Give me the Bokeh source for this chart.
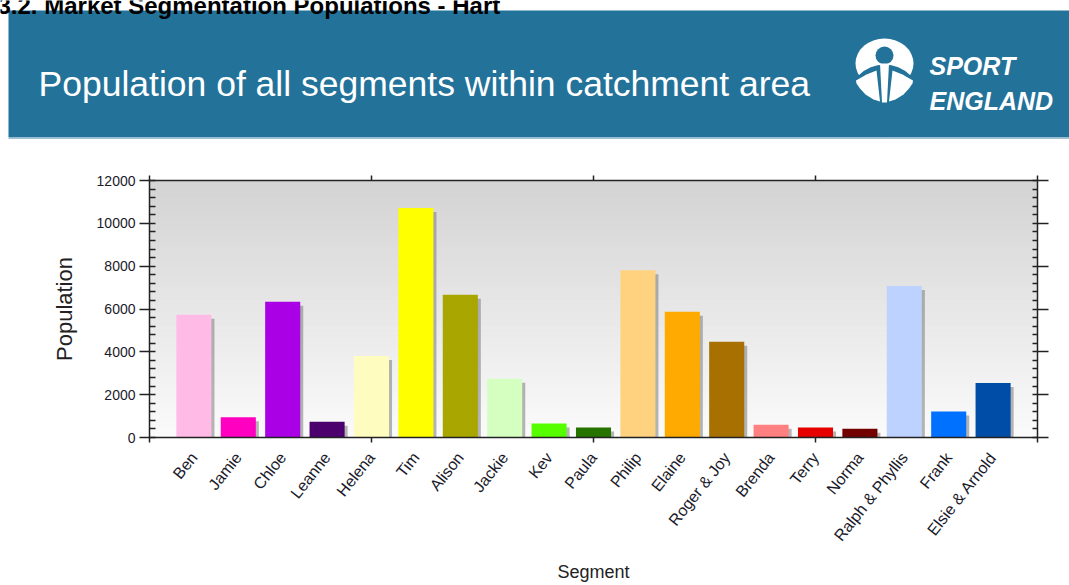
import math
from bokeh.plotting import figure
from bokeh.models import Range1d, LinearAxis, FixedTicker
from bokeh.layouts import column
from bokeh.embed import file_html
from bokeh.resources import INLINE
from bokeh.core.properties import value

# ---------------- data ----------------
segments = ["Ben", "Jamie", "Chloe", "Leanne", "Helena", "Tim", "Alison", "Jackie",
            "Kev", "Paula", "Philip", "Elaine", "Roger & Joy", "Brenda", "Terry",
            "Norma", "Ralph & Phyllis", "Frank", "Elsie & Arnold"]
population = [5730, 950, 6340, 730, 3800, 10720, 6660, 2740, 650, 470,
              7810, 5870, 4470, 590, 470, 410, 7070, 1210, 2550]
bar_colors = ["#FFBBE6", "#FF00C0", "#AA00E6", "#4B006E", "#FFFCC0", "#FFFF00",
              "#AAA600", "#D4FFC0", "#55FF00", "#267300", "#FFD27F", "#FFAA00",
              "#A87000", "#FF8080", "#E60000", "#730000", "#BED2FF", "#0070FF",
              "#004DA8"]
y_ticks = [0, 2000, 4000, 6000, 8000, 10000, 12000]
y_tick_labels = ["0", "2000", "4000", "6000", "8000", "10000", "12000"]
x_major_marks = [0, 5, 10, 15, 20]

title_text = "Population of all segments within catchment area"
caption_text = "3.2. Market Segmentation Populations - Hart"
x_label = "Segment"
y_label = "Population"

FONT = "Liberation Sans"
BLUE = "#23729A"
W = 1069
HEADER_H = 140
CHART_H = 585 - HEADER_H

# ---------------- header ----------------
h = figure(width=W, height=HEADER_H, x_range=Range1d(0, W), y_range=Range1d(HEADER_H, 0),
           output_backend="svg", toolbar_location=None, min_border=0,
           x_axis_location=None, y_axis_location=None, frame_align=False)
h.xgrid.visible = False
h.ygrid.visible = False
h.outline_line_color = None
h.background_fill_color = "white"
h.border_fill_color = "white"

h.quad(left=[8], right=[W], top=[10], bottom=[137], fill_color=BLUE, line_color=None)
h.quad(left=[8], right=[W], top=[137], bottom=[138.5], fill_color="#9fc1d3", line_color=None)

h.text(x=[-3], y=[5], text=[caption_text], text_font=value(FONT), text_font_size="24px",
       text_font_style="bold", text_color="black", text_baseline="alphabetic", text_align="left")
h.text(x=[38], y=[83], text=[title_text], text_font=value(FONT), text_font_size="35.5px",
       text_color="white", text_baseline="alphabetic", text_align="left")

# logo
h.ellipse(x=[884], y=[63], width=[58], height=[50], fill_color="white", line_color=None)
h.ellipse(x=[884], y=[100], width=[72], height=[72], fill_color=BLUE, line_color=None)
h.ellipse(x=[884], y=[55], width=[18], height=[18], fill_color=BLUE, line_color=None)
leaf_x = [855.5, 866, 876, 879.5, 873, 865, 859.5, 856]
leaf_y = [80, 74, 70, 101, 99, 94, 88, 83]
h.patch(x=leaf_x, y=leaf_y, fill_color="white", line_color=None)
h.patch(x=[1768 - v for v in leaf_x], y=leaf_y, fill_color="white", line_color=None)
h.patch(x=[879.5, 888.5, 886.5, 881.5], y=[63, 63, 102, 102], fill_color="white", line_color=None)
h.text(x=[929], y=[65], text=["SPORT"], text_font=value(FONT), text_font_size="25px",
       text_font_style="bold italic", text_color="white", text_baseline="alphabetic")
h.text(x=[929], y=[100], text=["ENGLAND"], text_font=value(FONT), text_font_size="25px",
       text_font_style="bold italic", text_color="white", text_baseline="alphabetic")

# ---------------- chart ----------------
n = len(segments)
xs = list(range(1, n + 1))
ymax = y_ticks[-1]

p = figure(width=W, height=CHART_H, x_range=Range1d(0, n + 1), y_range=Range1d(0, ymax),
           output_backend="svg", toolbar_location=None,
           min_border_left=149, min_border_right=32, min_border_top=40, min_border_bottom=148,
           x_axis_location=None, y_axis_location=None, frame_align=False)
p.xgrid.visible = False
p.ygrid.visible = False
p.outline_line_color = None
p.background_fill_color = "white"
p.border_fill_color = "white"

# gradient background (bands)
nb = 80
bl, bt, bc = [], [], []
for i in range(nb):
    t = (i + 0.5) / nb
    g = int(round(251 - (251 - 211) * t))
    bl.append(ymax * i / nb)
    bt.append(ymax * (i + 1) / nb)
    bc.append("#%02x%02x%02x" % (g, g, g))
p.quad(left=0, right=n + 1, bottom=bl, top=bt, fill_color=bc, line_color=bc, line_width=1)

# bar shadows
frame_w = 1037 - 149
frame_h = 437 - 180
dx = 3.0 * (n + 1) / frame_w
dy = 4.0 * ymax / frame_h
p.vbar(x=[x + dx for x in xs], top=[max(v - dy, 0) for v in population], width=0.79,
       fill_color="#7a7a7a", fill_alpha=0.55, line_color=None)
# bars
p.vbar(x=xs, top=population, width=0.79, fill_color=bar_colors, line_color=None)

AX = "#222222"
minor_y = [v for i in range(len(y_ticks) - 1) for v in
           [y_ticks[i] + (y_ticks[i + 1] - y_ticks[i]) * k / 5 for k in range(1, 5)]]

# left axis
ya = LinearAxis(ticker=FixedTicker(ticks=y_ticks, minor_ticks=minor_y), axis_label=y_label)
ya.major_label_overrides = {t: l for t, l in zip(y_ticks, y_tick_labels)}
ya.axis_line_color = AX
ya.axis_line_width = 1.5
ya.major_tick_line_color = AX
ya.major_tick_line_width = 1.5
ya.minor_tick_line_color = AX
ya.minor_tick_line_width = 1.5
ya.major_tick_out = 10
ya.major_tick_in = 6
ya.minor_tick_out = 0
ya.minor_tick_in = 6
ya.major_label_standoff = 4
ya.major_label_text_font = FONT
ya.major_label_text_font_size = "14px"
ya.major_label_text_color = "#1a1a2a"
ya.axis_label_text_font = FONT
ya.axis_label_text_font_size = "22px"
ya.axis_label_text_font_style = "normal"
ya.axis_label_text_color = "#222222"
ya.axis_label_standoff = 17
p.add_layout(ya, "left")

# right axis
ra = LinearAxis(ticker=FixedTicker(ticks=y_ticks, minor_ticks=minor_y))
ra.major_label_overrides = {t: "" for t in y_ticks}
ra.major_label_text_font_size = "0px"
ra.major_label_standoff = 0
ra.axis_line_color = AX
ra.axis_line_width = 1.5
ra.major_tick_line_color = AX
ra.major_tick_line_width = 1.5
ra.minor_tick_line_color = AX
ra.minor_tick_line_width = 1.5
ra.major_tick_out = 11
ra.major_tick_in = 5
ra.minor_tick_out = 0
ra.minor_tick_in = 5
p.add_layout(ra, "right")

# top axis
ta = LinearAxis(ticker=FixedTicker(ticks=x_major_marks, minor_ticks=[]))
ta.major_label_overrides = {t: "" for t in x_major_marks}
ta.major_label_text_font_size = "0px"
ta.major_label_standoff = 0
ta.axis_line_color = AX
ta.axis_line_width = 1.5
ta.major_tick_line_color = AX
ta.major_tick_line_width = 1.5
ta.major_tick_out = 5
ta.major_tick_in = 0
p.add_layout(ta, "above")

# bottom axis
ba = LinearAxis(ticker=FixedTicker(ticks=xs, minor_ticks=x_major_marks), axis_label=x_label)
ba.major_label_overrides = {x: s for x, s in zip(xs, segments)}
ba.major_label_orientation = 0.9
ba.major_label_text_font = FONT
ba.major_label_text_font_size = "16px"
ba.major_label_text_color = "#1a1a2a"
ba.major_label_standoff = 12
ba.axis_line_color = AX
ba.axis_line_width = 1.5
ba.major_tick_line_color = None
ba.major_tick_out = 0
ba.major_tick_in = 0
ba.minor_tick_line_color = AX
ba.minor_tick_line_width = 1.5
ba.minor_tick_out = 5
ba.minor_tick_in = 0
ba.axis_label_text_font = FONT
ba.axis_label_text_font_size = "18px"
ba.axis_label_text_font_style = "normal"
ba.axis_label_text_color = "#222222"
ba.axis_label_standoff = 10
p.add_layout(ba, "below")

layout = column(h, p, spacing=0)
open("out.html", "w").write(file_html(layout, INLINE))
